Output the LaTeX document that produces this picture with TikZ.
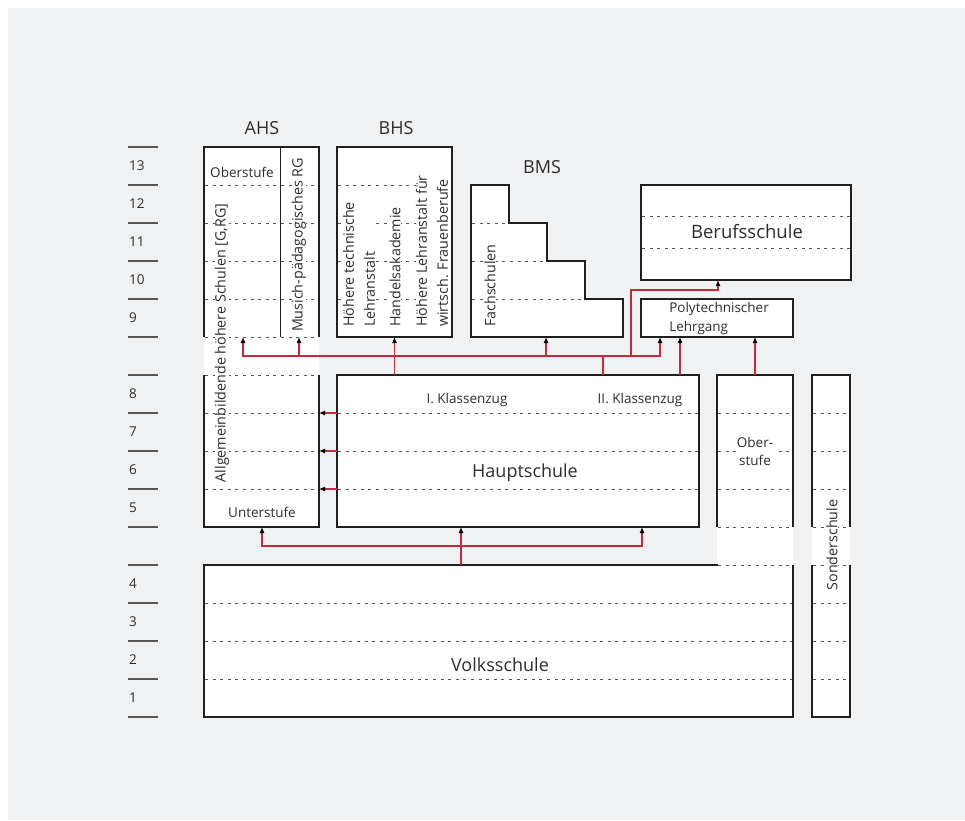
\documentclass[tikz,border=0pt]{standalone}
\usepackage{fontspec}
\setmainfont{Open Sans}
\usetikzlibrary{arrows.meta,positioning,calc}
\definecolor{bgGray}{RGB}{240,241,243}
\definecolor{linkRed}{RGB}{200,40,55}
\definecolor{textDark}{RGB}{45,45,45}
\definecolor{gridGray}{RGB}{85,85,85}

\begin{document}
\begin{tikzpicture}[x=1pt,y=-1pt,
  feld/.style={fill=white,inner sep=0pt,outer sep=0pt,anchor=north west},
  schule/.style={feld,draw=black!88,line width=1.7pt},
  rand/.style={draw=black!88,line width=1.7pt},
  raster/.style={gridGray,line width=1pt,dash pattern=on 3pt off 4.6pt},
  tick/.style={gridGray,line width=1.1pt},
  klein/.style={font=\fontsize{13.5}{19}\selectfont,text=textDark},
  gross/.style={font=\fontsize{18}{22}\selectfont,text=textDark},
  innen/.style={klein,fill=white,inner sep=1pt},
  dreh/.style={klein,fill=white,rotate=90,anchor=west,inner sep=0pt,align=left,font=\fontsize{14.3}{21}\selectfont},
  link/.style={linkRed,line width=1.1pt},
  pfeil/.style={link,-{Latex[black,length=6pt,width=5pt]}}
]
  \useasboundingbox (0,0) rectangle (965,820);
  \fill[bgGray] (8,8) rectangle (965,820);

  % Jahrgangsskala
  \foreach \k in {0,...,15}
    \draw[tick] (128,{147+38*\k}) -- (158,{147+38*\k});
  \foreach \n/\y in {13/166,12/204,11/242,10/280,9/318,8/394,7/432,6/470,5/508,4/584,3/622,2/660,1/698}
    \node[klein,anchor=west,inner sep=0pt] (nr\n) at (129,\y) {\n};

  % Flaechen
  \node[feld,minimum width=115pt,minimum height=380pt] (ahs) at (204,147) {};
  \node[schule,minimum width=115pt,minimum height=190pt] (bhs) at (337,147) {};
  \filldraw[rand,fill=white] (471,337) -- (471,185) -- (509,185) -- (509,223) -- (547,223)
    -- (547,261) -- (585,261) -- (585,299) -- (623,299) -- (623,337) -- cycle;
  \node[schule,minimum width=210pt,minimum height=95pt] (bs) at (641,185) {};
  \node[schule,minimum width=152pt,minimum height=38pt] (poly) at (641,299) {};
  \node[schule,minimum width=362pt,minimum height=152pt] (hs) at (337,375) {};
  \node[feld,minimum width=76pt,minimum height=190pt] (ost) at (717,375) {};
  \node[feld,minimum width=589pt,minimum height=152pt] (vs) at (204,565) {};
  \node[feld,minimum width=38pt,minimum height=342pt] (sos) at (812,375) {};

  % Raster
  \foreach \y in {185,223,261,299,337,375,413,451,489}
    \draw[raster] (205,\y) -- (318,\y);
  \foreach \y in {185,223,261,299}
    \draw[raster] (338,\y) -- (451,\y);
  \draw[raster] (472,223) -- (509,223);
  \draw[raster] (472,261) -- (547,261);
  \draw[raster] (472,299) -- (585,299);
  \foreach \y in {216.7,248.3}
    \draw[raster] (642,\y) -- (850,\y);
  \foreach \y in {413,451,489}
    \draw[raster] (338,\y) -- (698,\y);
  \foreach \y in {413,451,489,527,565}
    \draw[raster] (718,\y) -- (792,\y);
  \foreach \y in {603,641,679}
    \draw[raster] (205,\y) -- (792,\y);
  \foreach \y in {413,451,489,527,565,603,641,679}
    \draw[raster] (813,\y) -- (849,\y);

  % Raender mit Luecken
  \draw[rand] (204,337) |- (319,147) -- (319,337);
  \draw[line width=0.9pt,black!88] (280.5,147) -- (280.5,337);
  \draw[rand] (204,375) |- (319,527) -- (319,375);
  \draw[rand] (717,527) |- (793,375) -- (793,527);
  \draw[rand] (718,565) -- (204,565) |- (793,717) -- (793,565);
  \draw[rand] (812,527) |- (850,375) -- (850,527);
  \draw[rand] (812,565) |- (850,717) -- (850,565);

  % Beschriftung
  \node[gross] (tAHS) at (262,128) {AHS};
  \node[gross] (tBHS) at (396,128) {BHS};
  \node[gross] (tBMS) at (542,167) {BMS};
  \node[innen] (tOst) at (242,172) {Oberstufe};
  \node[dreh,anchor=center] (tAHSlang) at (222,343) {Allgemeinbildende höhere Schulen [G,RG]};
  \node[dreh,anchor=center] (tMus) at (299,245) {Musich-pädagogisches RG};
  \node[innen] (tUst) at (262,512) {Unterstufe};
  \node[dreh] (tHTL) at (359,327) {Höhere technische\\Lehranstalt};
  \node[dreh] (tHAK) at (395,327) {Handelsakademie};
  \node[dreh] (tHLW) at (432,327) {Höhere Lehranstalt für\\wirtsch. Frauenberufe};
  \node[dreh] (tFach) at (490,327) {Fachschulen};
  \node[gross,font=\fontsize{18.5}{22}\selectfont,fill=white,inner sep=1pt] (tBS) at (747,232) {Berufsschule};
  \node[klein,align=left] (tPoly) at (719,318) {Polytechnischer\\Lehrgang};
  \node[innen] (tKl1) at (467,400) {I. Klassenzug};
  \node[innen] (tKl2) at (640,400) {II. Klassenzug};
  \node[gross] (tHS) at (525,473) {Hauptschule};
  \node[innen,align=center,font=\fontsize{13.5}{18}\selectfont] (tOber) at (755,451) {Ober-\\stufe};
  \node[dreh,anchor=center] (tSos) at (832,545) {Sonderschule};
  \node[gross] (tVS) at (500,665) {Volksschule};

  % Uebertritte
  \coordinate (ahsL) at (243,337);
  \coordinate (ahsR) at (299,337);
  \coordinate (bms) at (546,337);
  \coordinate (polyL) at (660,337);
  \coordinate (polyM) at (680,337);
  \coordinate (bus) at (603,356);
  \coordinate (knick) at (631,290);
  \coordinate (bsIn) at (718,280);
  \draw[link] (hs.north -| bus) -- (bus);
  \draw[pfeil] (bus) -| (ahsL);
  \draw[pfeil] (bus -| ahsR) -- (ahsR);
  \draw[pfeil] (bus -| bms) -- (bms);
  \draw[pfeil] (bus) -| (polyL);
  \draw[pfeil] (knick |- bus) -- (knick) -| (bsIn);
  \draw[pfeil] (bhs.south |- hs.north) -- (bhs.south);
  \draw[pfeil] (polyM |- hs.north) -- (polyM);
  \draw[pfeil] (ost.north) -- (ost.north |- poly.south);
  \foreach \y in {413,451,489}
    \draw[pfeil] (hs.west |- 0,\y) -- (ahs.east |- 0,\y);

  \coordinate (vbus) at (461,546);
  \coordinate (ahsU) at (262,527);
  \coordinate (hsR) at (642,527);
  \draw[pfeil] (vs.north -| vbus) -- (vbus |- hs.south);
  \draw[pfeil] (vbus) -| (ahsU);
  \draw[pfeil] (vbus) -| (hsR);
\end{tikzpicture}
\end{document}
